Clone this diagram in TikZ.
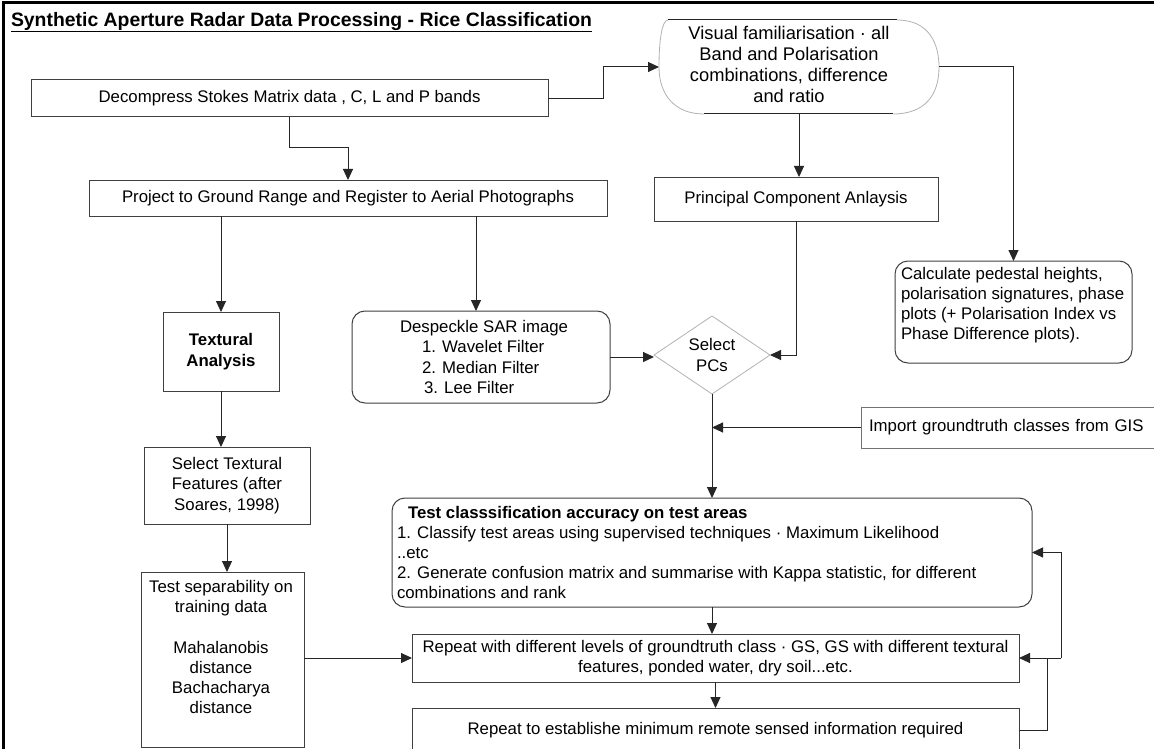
\documentclass[tikz,border=0pt]{standalone}
\usepackage{fontspec}
\setmainfont{Liberation Sans}
\usetikzlibrary{arrows.meta,shapes.geometric,calc}
\newcommand\myfs{\fontsize{16.8pt}{20.2pt}\selectfont}
\begin{document}
\begin{tikzpicture}[x=1pt,y=-1pt,
  every node/.style={inner sep=0pt,outer sep=0pt,font=\myfs},
  box/.style={draw=black!75,line width=1pt,rectangle,anchor=north west,align=center},
  rbox/.style={box,rounded corners=13pt},
  arr/.style={draw=black!85,line width=1pt,-{Triangle[length=11pt,width=10pt]}},
  ln/.style={draw=black!85,line width=1pt}]
\useasboundingbox (0,0) rectangle (1154,749);
\clip (0,0) rectangle (1154,749);
\fill[white] (0,0) rectangle (1154,749);
% frame
\draw[line width=3pt] (3,760) -- (3,3) -- (1160,3);
% title
\node[anchor=base west,font=\fontsize{19.4pt}{22pt}\selectfont\bfseries] (title) at (11,27) {Synthetic Aperture Radar Data Processing - Rice Classification};
\draw[line width=1.3pt] ([yshift=-4.5pt]title.base west) -- ([yshift=-4.5pt]title.base east);
% nodes
\node[box,minimum width=517pt,minimum height=37pt] (decomp) at (31,80) {Decompress Stokes Matrix data , C, L and P bands};
\node[minimum width=280pt,minimum height=94pt,anchor=north west] (visual) at (659,20) {};
\draw[black!30,line width=0.8pt] (897,20) .. controls (930,20) and (939,45) .. (939,67) .. controls (939,95) and (925,114) .. (893,114);
\draw[black!30,line width=0.8pt] (704,114) .. controls (675,114) and (659,95) .. (659,67) .. controls (659,40) and (662,20) .. (668,20);
\draw[black!85,line width=1pt] (668,20) -- (897,20);
\draw[black!85,line width=1pt] (704,114) -- (893,114);
\node[align=center,font=\fontsize{18.3pt}{21pt}\selectfont] (visualtxt) at (789,64) {Visual familiarisation · all\\Band and Polarisation\\combinations, difference\\and ratio};
\node[box,minimum width=518pt,minimum height=36pt] (project) at (89,180) {Project to Ground Range and Register to Aerial Photographs};
\node[box,minimum width=284pt,minimum height=44pt] (pca) at (654,177) {Principal Component Anlaysis};
\node[rbox,minimum width=237pt,minimum height=102pt] (ped) at (895,261) {};
\node[anchor=west,align=left] (pedtxt) at (901,305) {Calculate pedestal heights,\\polarisation signatures, phase\\plots (+ Polarisation Index vs\\Phase Difference plots).};
\node[box,minimum width=116pt,minimum height=79pt,font=\fontsize{16.8pt}{21pt}\selectfont\bfseries] (tex) at (163,312) {Textural\\Analysis};
\node[rbox,minimum width=258pt,minimum height=92pt] (desp) at (352,311) {};
\node[anchor=west,align=left] (desptxt) at (400,357) {Despeckle SAR image\\\hspace*{22pt}1. Wavelet Filter\\\hspace*{22pt}2. Median Filter\\\hspace*{24pt}3. Lee Filter};
\node[diamond,draw=black!30,line width=0.8pt,minimum width=116pt,minimum height=78pt,aspect=1.49,align=center,font=\fontsize{16.8pt}{21pt}\selectfont] (sel) at (712,355) {Select\\PCs};
\node[box,draw=black!55,minimum width=300pt,minimum height=41pt,text width=284pt,inner xsep=8pt,align=left] (import) at (861,407) {Import groundtruth classes from GIS};
\node[box,minimum width=166pt,minimum height=77pt,font=\fontsize{16.8pt}{20.5pt}\selectfont] (selfeat) at (144,447) {Select Textural\\Features (after\\Soares, 1998)};
\node[box,minimum width=163pt,minimum height=175pt] (testsep) at (141,572) {};
\node[align=center] (septxt) at (221,647) {Test separability on\\training data\\[20.2pt]Mahalanobis\\distance\\Bachacharya\\distance};
\node[rbox,minimum width=640pt,minimum height=109pt] (test) at (392,498) {};
\node[anchor=west,align=left] (testtxt) at (397,552.5) {\hspace*{11pt}\textbf{Test classsification accuracy on test areas}\\1. Classify test areas using supervised techniques · Maximum Likelihood\\..etc\\2. Generate confusion matrix and summarise with Kappa statistic, for different\\combinations and rank};
\node[box,minimum width=607pt,minimum height=48pt,font=\fontsize{16.8pt}{19.5pt}\selectfont] (rep1) at (412,634) {Repeat with different levels of groundtruth class · GS, GS with different textural\\features, ponded water, dry soil...etc.};
\node[box,minimum width=607pt,minimum height=44pt] (rep2) at (412,708) {Repeat to establishe minimum remote sensed information required};
% connectors
\draw[arr] (decomp.east) -- ++(55,0) |- (visual.west);
\draw[arr] (decomp.south) -- ++(0,31) -| (project.north);
\draw[arr] (visual.south) -- (visual.south |- pca.north);
\draw[arr] (visual.east) -| (ped.north);
\draw[arr] (tex.north |- project.south) -- (tex.north);
\draw[arr] ([xshift=-5pt]desp.north |- project.south) -- ([xshift=-5pt]desp.north);
\draw[arr] (desp.east) -- (desp.east -| sel.west);
\draw[arr] (pca.south) |- (sel.east);
\draw[arr] (sel.south) -- (test.north);
\draw[arr] (import.west) -- (import.west -| sel.south);
\draw[arr] (tex.south) -- (tex.south |- selfeat.north);
\draw[arr] (selfeat.south) -- (selfeat.south |- testsep.north);
\draw[arr] (testsep.east |- rep1.west) -- (rep1.west);
\draw[arr] (test.south) -- (test.south |- rep1.north);
\draw[arr] (rep1.south) -- (rep2.north);
\coordinate (fb) at (1061,658);
\coordinate (jn) at (1047,658);
\draw[arr] (fb) -- (rep1.east);
\draw[arr] (fb) |- (test.east);
\draw[ln] (rep2.east) -| (jn);
\end{tikzpicture}
\end{document}
